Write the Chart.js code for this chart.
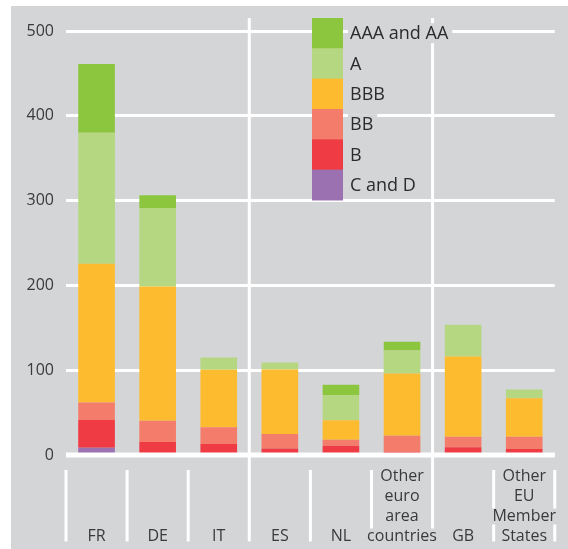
<!DOCTYPE html>
<html><head><meta charset="utf-8">
<script src="https://cdn.jsdelivr.net/npm/chart.js@4.4.1/dist/chart.umd.min.js"></script>
<style>html,body{margin:0;padding:0;background:#fff}canvas{display:block}</style>
</head><body>
<canvas id="c" width="568" height="549"></canvas>
<script>
// ---- data ----
const categories = ['FR','DE','IT','ES','NL','Other euro area countries','GB','Other EU Member States'];
const yTicks = [0,100,200,300,400,500];
const cAndD  = [8.6, 0, 0, 0, 0, 0, 0, 0];
const ratingB   = [32.7, 15.4, 13.0, 7.8, 11.0, 3.9, 9.0, 7.1];
const ratingBB  = [20.5, 25.1, 19.6, 17.0, 7.1, 18.9, 12.6, 14.5];
const ratingBBB = [163.8, 158.3, 67.8, 76.0, 22.8, 73.2, 94.5, 45.3];
const ratingA   = [154.4, 92.5, 14.6, 8.2, 30.0, 27.2, 37.5, 10.2];
const ratingAAA = [81.0, 15.0, 0, 0, 11.8, 10.3, 0, 0];

// ---- style ----
const BG = '#d4d5d7';
const TXT = '#3a3a3a';
const FAMILY = '"Open Sans", "Noto Sans", sans-serif';
const FS = 16, LH = 20, XPAD = 11.5, LEG_FS = 18;

// wrapped, bottom-aligned tick labels built from categories
const xLabels = categories.map(c => {
  const w = c.split(' ');
  let lines;
  if (c === 'Other EU Member States') lines = ['Other','EU','Member','States'];
  else if (w.length > 1) lines = w;
  else lines = [c];
  while (lines.length < 4) lines.unshift('');
  return lines;
});

const decor = {
  id: 'decor',
  beforeDraw(chart) {
    const ctx = chart.ctx;
    ctx.save(); ctx.fillStyle = BG; ctx.fillRect(11, 6, 557, 543); ctx.restore();
  },
  beforeDatasetsDraw(chart) {
    const ctx = chart.ctx, ca = chart.chartArea, xs = chart.scales.x;
    const n = categories.length, step = (ca.right - ca.left) / n;
    ctx.save();
    ctx.font = FS + 'px ' + FAMILY;
    const gaps = [];
    xLabels.forEach((lines, i) => {
      const cx = xs.getPixelForValue(i);
      lines.forEach((t, k) => {
        if (!t) return;
        const w = ctx.measureText(t).width;
        const cy = xs.top + XPAD + LH * (k + 0.5);
        gaps.push({x0: cx - w/2 - 2, x1: cx + w/2 + 2, y0: cy - 8, y1: cy + 8});
      });
    });
    ctx.strokeStyle = '#fff'; ctx.lineWidth = 3;
    for (let b = 0; b <= n; b++) {
      const bx = ca.left + b * step;
      const long = (b === 3 || b === 6);
      const y0 = long ? ca.top - 13 : xs.top + 15;
      const y1 = xs.top + 86.5;
      let segs = [[y0, y1]];
      gaps.filter(g => bx >= g.x0 && bx <= g.x1).forEach(g => {
        segs = segs.flatMap(([a, c]) => (g.y1 <= a || g.y0 >= c) ? [[a, c]] :
          [[a, g.y0], [g.y1, c]].filter(s => s[1] > s[0]));
      });
      segs.forEach(([a, c]) => { ctx.beginPath(); ctx.moveTo(bx, a); ctx.lineTo(bx, c); ctx.stroke(); });
    }
    ctx.restore();
  },
  afterDatasetsDraw(chart) {
    const ctx = chart.ctx, ca = chart.chartArea, ys = chart.scales.y;
    ctx.save();
    const y0 = ys.getPixelForValue(0);
    ctx.fillStyle = '#fff';
    ctx.fillRect(ca.left, y0 - 2.5, ca.right - ca.left, 5);
    // legend
    const ds = chart.data.datasets.slice().reverse();
    const top = 18, rh = 30.33;
    ctx.font = LEG_FS + 'px ' + FAMILY;
    ctx.textBaseline = 'middle';
    ds.forEach((d, i) => {
      const y = top + i * rh;
      ctx.fillStyle = d.backgroundColor;
      ctx.fillRect(312, y, 31, rh + 0.5);
      const w = ctx.measureText(d.label).width;
      ctx.fillStyle = BG;
      ctx.fillRect(348, y + rh/2 - 10, w + 6, 20);
      ctx.fillStyle = '#2b2b2b';
      ctx.fillText(d.label, 350, y + rh/2 + 1);
    });
    ctx.restore();
  }
};

const mk = (label, data, color) => ({label, data, backgroundColor: color, borderWidth: 0,
  barPercentage: 0.6, categoryPercentage: 1.0});

new Chart(document.getElementById('c'), {
  type: 'bar',
  data: {
    labels: xLabels,
    datasets: [
      mk('C and D', cAndD, '#9b71b1'),
      mk('B', ratingB, '#ef3b43'),
      mk('BB', ratingBB, '#f47c6b'),
      mk('BBB', ratingBBB, '#fdbb2f'),
      mk('A', ratingA, '#b5d781'),
      mk('AAA and AA', ratingAAA, '#8cc63f')
    ]
  },
  options: {
    responsive: false, animation: false, devicePixelRatio: 1,
    layout: {padding: {left: 11, right: 8.5, top: 31, bottom: 0}},
    plugins: {legend: {display: false}, tooltip: {enabled: false}},
    scales: {
      x: {
        stacked: true,
        grid: {display: false, drawTicks: false},
        border: {display: false},
        ticks: {color: TXT, font: {family: FAMILY, size: FS, lineHeight: LH / FS},
                padding: XPAD, autoSkip: false, maxRotation: 0, minRotation: 0},
        afterFit(s) { s.height = 94; }
      },
      y: {
        stacked: true, min: 0, max: 500,
        afterBuildTicks(s) { s.ticks = yTicks.map(v => ({value: v})); },
        grid: {color: '#fff', lineWidth: 3, drawTicks: false},
        border: {display: false},
        ticks: {color: TXT, font: {family: FAMILY, size: FS}, padding: 12},
        afterFit(s) { s.width = 55; }
      }
    }
  },
  plugins: [decor]
});
</script>
</body></html>
